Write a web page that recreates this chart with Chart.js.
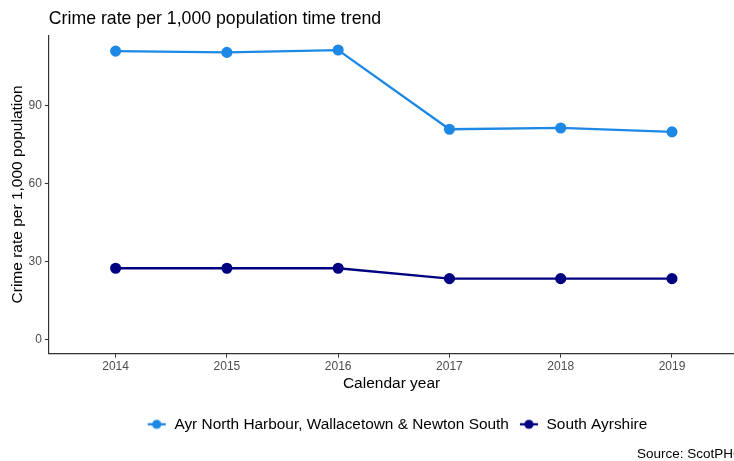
<!DOCTYPE html>
<html>
<head>
<meta charset="utf-8">
<script src="https://cdn.jsdelivr.net/npm/chart.js@4.4.0/dist/chart.umd.min.js"></script>
<style>
  html, body { margin: 0; padding: 0; background: #fff; overflow: hidden; }
  #wrap { position: relative; width: 734px; height: 461px; overflow: hidden; }
  #crimeChart { display: block; }
  #source { position: absolute; left: 637px; top: 446px; font: 13.5px "Liberation Sans", Arial, sans-serif; color: #000; white-space: nowrap; }
</style>
</head>
<body>
<div id="wrap">
  <!-- canvas is a bit wider than the frame: the original plot is cropped on the right -->
  <canvas id="crimeChart" width="741" height="461"></canvas>
  <div id="source">Source: ScotPHO</div>
</div>
<script>
const years = [2014, 2015, 2016, 2017, 2018, 2019];
const ayrNorth = [111.1, 110.6, 111.5, 81.0, 81.5, 80.0];
const southAyrshire = [27.5, 27.5, 27.5, 23.5, 23.5, 23.5];
const yTicks = [0, 30, 60, 90];

const FONT = '"Liberation Sans", Arial, sans-serif';

function legendIcon(color) {
  const c = document.createElement('canvas');
  c.width = 20; c.height = 12;
  const g = c.getContext('2d');
  g.strokeStyle = color; g.lineWidth = 2.3;
  g.beginPath(); g.moveTo(1, 6); g.lineTo(19, 6); g.stroke();
  g.fillStyle = color;
  g.beginPath(); g.arc(10, 6, 4.6, 0, Math.PI * 2); g.fill();
  return c;
}

const series = [
  { label: 'Ayr North Harbour, Wallacetown & Newton South', values: ayrNorth, color: '#1E88E5' },
  { label: 'South Ayrshire', values: southAyrshire, color: '#000080' }
];

const noPad = s => { s.paddingLeft = 0; s.paddingRight = 0; };

// the original legend sits a bit right of the canvas centre
const legendShift = {
  id: 'legendShift',
  afterUpdate(chart) {
    if (chart.legend) { chart.legend.left += 21.5; chart.legend.right += 21.5; }
  }
};

const ctx = document.getElementById('crimeChart').getContext('2d');
new Chart(ctx, {
  type: 'line',
  data: {
    datasets: series.map(s => ({
      label: s.label,
      data: years.map((y, i) => ({ x: y, y: s.values[i] })),
      borderColor: s.color,
      backgroundColor: s.color,
      borderWidth: 2.3,
      pointRadius: 4.4,
      pointHoverRadius: 4.4,
      tension: 0,
      fill: false
    }))
  },
  plugins: [legendShift],
  options: {
    responsive: false,
    animation: false,
    layout: { padding: { left: 10, right: 0, top: 5, bottom: 19 } },
    plugins: {
      title: {
        display: true,
        text: 'Crime rate per 1,000 population time trend',
        align: 'start',
        fullSize: false,
        color: '#000',
        font: { family: FONT, size: 17.7, weight: 'normal' },
        padding: { top: 3, bottom: 6 }
      },
      legend: {
        position: 'bottom',
        labels: {
          color: '#000',
          font: { family: FONT, size: 15.4 },
          usePointStyle: true,
          pointStyleWidth: 20,
          padding: 10,
          generateLabels: chart => chart.data.datasets.map((d, i) => ({
            text: d.label,
            pointStyle: legendIcon(d.borderColor),
            fillStyle: d.borderColor,
            strokeStyle: d.borderColor,
            lineWidth: 0,
            datasetIndex: i,
            hidden: false
          }))
        }
      },
      tooltip: { enabled: false }
    },
    scales: {
      x: {
        type: 'linear',
        min: 2013.4,
        max: 2019.56,
        afterBuildTicks: scale => { scale.ticks = years.map(v => ({ value: v })); },
        afterFit: noPad,
        ticks: {
          color: '#4d4d4d',
          font: { family: FONT, size: 12 },
          padding: 2,
          maxRotation: 0,
          callback: v => String(v)
        },
        grid: { display: true, drawOnChartArea: false, drawTicks: true, tickLength: 4, color: '#333', lineWidth: 1 },
        border: { display: true, color: '#333', width: 1.2 },
        title: {
          display: true,
          text: 'Calendar year',
          color: '#000',
          font: { family: FONT, size: 15.5, lineHeight: 1 },
          padding: { top: 0, bottom: 15 }
        }
      },
      y: {
        min: -5.4,
        max: 117.2,
        afterBuildTicks: scale => { scale.ticks = yTicks.map(v => ({ value: v })); },
        ticks: {
          color: '#4d4d4d',
          font: { family: FONT, size: 12 },
          padding: 3
        },
        grid: { display: true, drawOnChartArea: false, drawTicks: true, tickLength: 4, color: '#333', lineWidth: 1 },
        border: { display: true, color: '#333', width: 1.2 },
        title: {
          display: true,
          text: 'Crime rate per 1,000 population',
          color: '#000',
          font: { family: FONT, size: 15.5, lineHeight: 1 },
          padding: { top: 0, bottom: 0 }
        }
      }
    }
  }
});
</script>
</body>
</html>
